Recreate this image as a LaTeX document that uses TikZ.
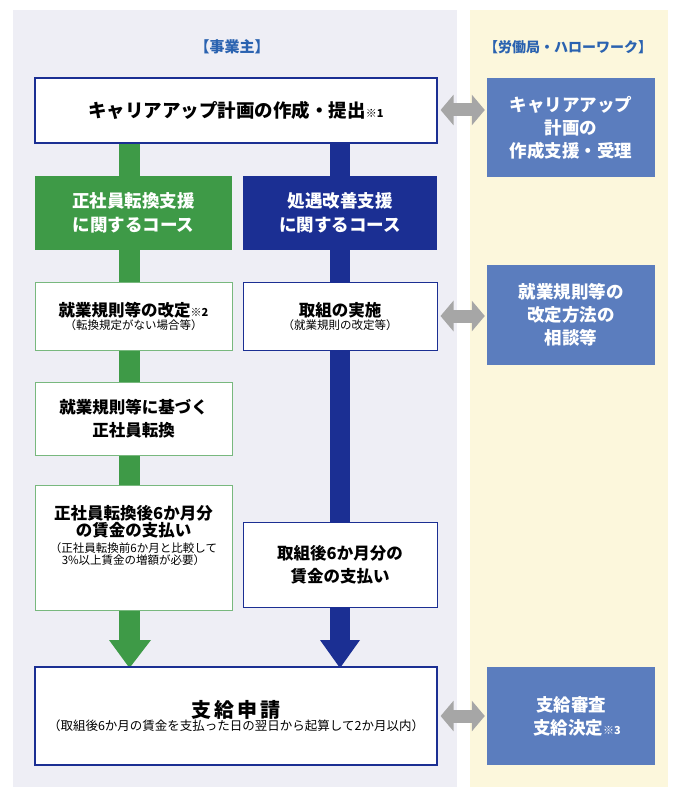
\documentclass[tikz,border=0pt]{standalone}
\usepackage{fontspec}
\setmainfont{Noto Sans CJK JP}
\usetikzlibrary{arrows.meta}
\definecolor{lav}{HTML}{EEEEF5}
\definecolor{yel}{HTML}{FCF7DC}
\definecolor{gr}{HTML}{3E9A47}
\definecolor{dbl}{HTML}{1B2F93}
\definecolor{mbl}{HTML}{5B7DBE}
\definecolor{hdr}{HTML}{2A62B0}
\definecolor{gry}{HTML}{A6A6A6}
\begin{document}
\begin{tikzpicture}[x=1pt,y=-1pt,
 box/.style={draw,line width=1.2pt,fill=white,align=center,inner sep=0pt},
 gbox/.style={box,draw=gr!70,line width=1pt},
 bbox/.style={box,draw=dbl,line width=1pt},
 rbox/.style={fill=mbl,text=white,align=center,font=\fontsize{17.5}{23}\selectfont\bfseries},
 hd/.style={text=white,align=center,inner sep=0pt,font=\fontsize{17.5}{24}\selectfont\bfseries},
 dbl arr/.style={gry,line width=13pt,{Triangle[length=13pt,width=30pt]}-{Triangle[length=13pt,width=30pt]}}]
\useasboundingbox (0,0) rectangle (678,797);
\fill[white] (0,0) rectangle (678,797);
\fill[lav] (13,10) rectangle (457,787);
\fill[yel] (470,10) rectangle (668,787);
\node[text=hdr,font=\fontsize{15}{17}\selectfont\bfseries] (h1) at (232,47) {【事業主】};
\node[text=hdr,font=\fontsize{14}{16}\selectfont\bfseries] (h2) at (568,47) {【労働局・ハローワーク】};
% bars
\fill[gr] (119,143) rectangle (140,641);
\fill[gr] (109,640) -- (151,640) -- (129.5,668) -- cycle;
\fill[dbl] (330,143) rectangle (350,641);
\fill[dbl] (320,640) -- (360,640) -- (340,668) -- cycle;
% boxes
\node[box,draw=dbl,minimum width=402,minimum height=65,font=\fontsize{18.5}{22}\selectfont\bfseries] (top) at (236,110.5) {キャリアアップ計画の作成・提出{\fontsize{11}{12}\selectfont ※1}};
\node[hd,fill=gr,minimum width=197,minimum height=74] (gh) at (133.5,213) {正社員転換支援\\に関するコース};
\node[hd,fill=dbl,minimum width=194,minimum height=74] (bh) at (340,213) {処遇改善支援\\に関するコース};
\node[gbox,minimum width=197,minimum height=68] (g1) at (133.5,316) {{\fontsize{16.5}{20}\selectfont\bfseries 就業規則等の改定{\fontsize{11}{12}\selectfont ※2}}\\[1pt]{\fontsize{11.5}{14}\selectfont （転換規定がない場合等）}};
\node[gbox,minimum width=197,minimum height=73,font=\fontsize{16.5}{23}\selectfont\bfseries] (g2) at (133.5,418.5) {就業規則等に基づく\\正社員転換};
\node[gbox,minimum width=197,minimum height=125] (g3) at (133.5,547.5) {{\fontsize{16.5}{23}\selectfont\bfseries 正社員転換後6か月分}\\{\fontsize{16.5}{23}\selectfont\bfseries の賃金の支払い}\\[4pt]{\fontsize{11.5}{15}\selectfont （正社員転換前6か月と比較して}\\{\fontsize{11.5}{15}\selectfont 3\%以上賃金の増額が必要）}\\[14pt]};
\node[bbox,minimum width=194,minimum height=68] (b1) at (340,316) {{\fontsize{16.5}{20}\selectfont\bfseries 取組の実施}\\[1pt]{\fontsize{11.5}{14}\selectfont （就業規則の改定等）}};
\node[bbox,minimum width=194,minimum height=85,font=\fontsize{16.5}{23}\selectfont\bfseries] (b2) at (340,564.5) {取組後6か月分の\\賃金の支払い};
\node[box,draw=dbl,minimum width=402,minimum height=98] (bot) at (236,716) {{\fontsize{20}{26}\selectfont\bfseries 支\,給\,申\,請}\\{\fontsize{12.5}{16}\selectfont （取組後6か月の賃金を支払った日の翌日から起算して2か月以内）}};
% right
\node[rbox,minimum width=168,minimum height=99] (r1) at (571,127.5) {キャリアアップ\\計画の\\作成支援・受理};
\node[rbox,minimum width=168,minimum height=100] (r2) at (571,315) {就業規則等の\\改定方法の\\相談等};
\node[rbox,minimum width=168,minimum height=98] (r3) at (571,716) {支給審査\\\ \ \ 支給決定{\fontsize{11}{12}\selectfont ※3}};
\draw[dbl arr] ([xshift=3pt]top.east|-0,110) -- ([xshift=-2pt]r1.west|-0,110);
\draw[dbl arr] ([xshift=3pt]b1.east) -- ([xshift=-2pt]r2.west|-b1.east);
\draw[dbl arr] ([xshift=3pt]bot.east) -- ([xshift=-2pt]r3.west);
\end{tikzpicture}
\end{document}
